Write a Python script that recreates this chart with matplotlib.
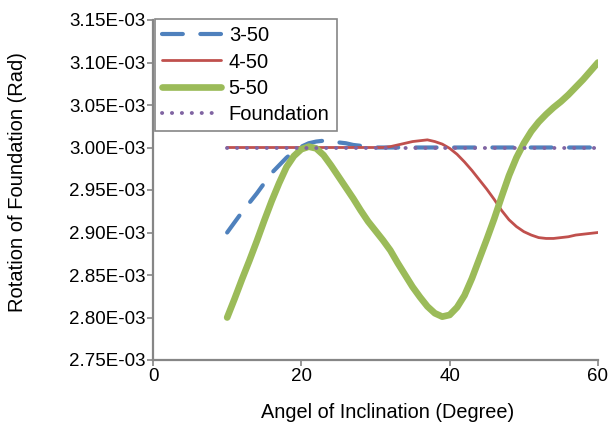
import matplotlib
matplotlib.use("Agg")
import matplotlib.pyplot as plt
from matplotlib.ticker import FormatStrFormatter

plt.rcParams['font.family'] = ['Liberation Sans', 'DejaVu Sans']

# --- data (rotation in 1E-03 rad) ---
angle = list(range(10, 61))
rot_3_50 = [2.900, 2.912, 2.924, 2.935, 2.946, 2.958, 2.970, 2.979, 2.988, 2.995,
            3.001, 3.005, 3.007, 3.008, 3.007, 3.006, 3.005, 3.003, 3.002, 3.001,
            3.000, 3.000, 3.000, 3.000, 3.000, 3.000, 3.000, 3.000, 3.000, 3.000,
            3.000, 3.000, 3.000, 3.000, 3.000, 3.000, 3.000, 3.000, 3.000, 3.000,
            3.000, 3.000, 3.000, 3.000, 3.000, 3.000, 3.000, 3.000, 3.000, 3.000,
            3.000]
rot_4_50 = [3.000, 3.000, 3.000, 3.000, 3.000, 3.000, 3.000, 3.000, 3.000, 3.000,
            3.000, 3.000, 3.000, 3.000, 3.000, 3.000, 3.000, 3.000, 3.000, 3.000,
            3.000, 3.000, 3.001, 3.003, 3.005, 3.007, 3.008, 3.009, 3.007, 3.004,
            2.999, 2.992, 2.983, 2.973, 2.962, 2.951, 2.939, 2.926, 2.915, 2.907,
            2.901, 2.897, 2.894, 2.893, 2.893, 2.894, 2.895, 2.897, 2.898, 2.899,
            2.900]
rot_5_50 = [2.800, 2.822, 2.845, 2.867, 2.890, 2.914, 2.937, 2.958, 2.977, 2.990,
            2.998, 3.001, 2.999, 2.991, 2.979, 2.966, 2.953, 2.940, 2.926, 2.913,
            2.902, 2.891, 2.879, 2.864, 2.850, 2.836, 2.824, 2.813, 2.805, 2.801,
            2.803, 2.812, 2.826, 2.846, 2.869, 2.892, 2.916, 2.942, 2.967, 2.988,
            3.005, 3.019, 3.030, 3.039, 3.047, 3.054, 3.062, 3.071, 3.080, 3.090,
            3.100]
rot_found = [3.000] * len(angle)

names = ['3-50', '4-50', '5-50', 'Foundation']
colors = ['#4F81BD', '#C0504D', '#9BBB59', '#8064A2']

fig = plt.figure(figsize=(6.09, 4.22), dpi=100)
ax = fig.add_axes([153/609, 62/422, 445/609, 340/422])

to_rad = lambda v: [y * 1e-3 for y in v]

ax.plot(angle, to_rad(rot_3_50), color=colors[0], lw=3.0,
        linestyle=(0, (5.0, 4.2)), dash_capstyle='round', label=names[0], zorder=2)
ax.plot(angle, to_rad(rot_4_50), color=colors[1], lw=2.0,
        solid_capstyle='round', solid_joinstyle='round', label=names[1], zorder=3)
ax.plot(angle, to_rad(rot_5_50), color=colors[2], lw=4.8,
        solid_capstyle='round', solid_joinstyle='round', label=names[2], zorder=4)
ax.plot(angle, to_rad(rot_found), color=colors[3], lw=2.8,
        linestyle=(0, (0.05, 2.5)), dash_capstyle='round', label=names[3], zorder=5)

ax.set_xlim(0, 60)
ax.set_ylim(2.75e-3, 3.15e-3)
ax.set_xticks([0, 20, 40, 60])
ax.set_yticks([2.75e-3 + 0.05e-3 * i for i in range(9)])
ax.yaxis.set_major_formatter(FormatStrFormatter('%.2E'))

axis_grey = '#868686'
for s in ['top', 'right']:
    ax.spines[s].set_visible(False)
for s in ['left', 'bottom']:
    ax.spines[s].set_color(axis_grey)
    ax.spines[s].set_linewidth(1.6)
ax.tick_params(axis='both', colors=axis_grey, labelcolor='black',
               length=4, width=1.2, labelsize=13.5, pad=1.5)

ax.set_xlabel('Angel of Inclination (Degree)', fontsize=14.3)
ax.set_ylabel('Rotation of Foundation (Rad)', fontsize=14.5)
ax.xaxis.set_label_coords(0.527, -0.125)
ax.yaxis.set_label_coords(-0.283, 0.524)

leg = ax.legend(loc='upper left', bbox_to_anchor=(155/609, 1 - 19/422),
                bbox_transform=fig.transFigure, borderaxespad=0,
                fontsize=14.5, handlelength=2.9, handletextpad=0.4,
                labelspacing=0.36, borderpad=0.36, fancybox=False,
                framealpha=1, edgecolor=axis_grey)
leg.get_frame().set_linewidth(1.2)

fig.savefig('out.png', dpi=100)
